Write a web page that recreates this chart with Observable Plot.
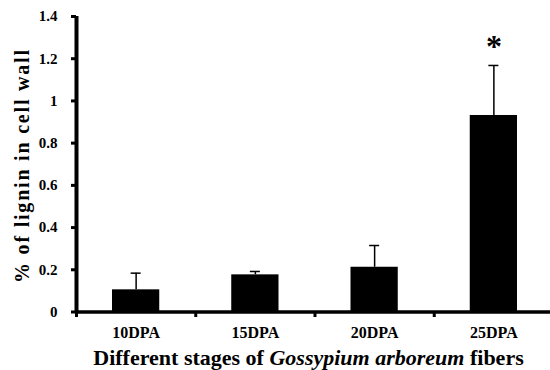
<!DOCTYPE html>
<html>
<head>
<meta charset="utf-8">
<script src="https://cdn.jsdelivr.net/npm/d3@7"></script>
<script src="https://cdn.jsdelivr.net/npm/@observablehq/plot@0.6"></script>
<style>
  html, body { margin: 0; padding: 0; background: #fff; }
  #chart svg { display: block; }
  #chart svg, #chart svg text { font-family: "Liberation Serif", "Times New Roman", Tinos, "DejaVu Serif", serif; font-weight: bold; }
</style>
</head>
<body>
<div id="chart"></div>
<script>
const categories = ["10DPA", "15DPA", "20DPA", "25DPA"];
const values = [0.105, 0.176, 0.212, 0.931];
const errors = [0.079, 0.016, 0.103, 0.237];
const significant = ["", "", "", "*"];
const yTicks = [0, 0.2, 0.4, 0.6, 0.8, 1, 1.2, 1.4];

const data = categories.map((c, i) => ({
  cat: c, i, value: values[i], top: values[i] + errors[i], mark: significant[i]
}));

const W = 550, H = 370;
const capHalf = 0.042;
const FONT = '"Liberation Serif", "Times New Roman", Tinos, "DejaVu Serif", serif';

const plot = Plot.plot({
  width: W, height: H,
  marginLeft: 76, marginRight: 0, marginTop: 16, marginBottom: 58,
  style: { fontFamily: FONT, fontWeight: "bold", background: "#fff", color: "#000" },
  x: { type: "linear", domain: [0, 4], range: [76, 553] },
  y: { domain: [0, 1.4], range: [311.5, 16] },
  marks: [
    Plot.rectY(data, { x1: d => d.i, x2: d => d.i + 1, y: "value", fill: "#000", insetLeft: 36, insetRight: 36 }),
    Plot.ruleX(data, { x: d => d.i + 0.5, y1: "value", y2: "top", stroke: "#000", strokeWidth: 1.5 }),
    Plot.ruleY(data, { y: "top", x1: d => d.i + 0.5 - capHalf, x2: d => d.i + 0.5 + capHalf, stroke: "#000", strokeWidth: 1.5 }),
    Plot.text(data.filter(d => d.mark), { x: d => d.i + 0.5, y: "top", text: "mark", fontSize: 32, fontWeight: "bold", lineAnchor: "middle", dy: -19, fill: "#000" }),
    Plot.axisY({ ticks: yTicks, tickFormat: d => String(+d.toFixed(1)), tickSize: 5, tickPadding: 14, strokeWidth: 3, fontSize: 15, fontWeight: "bold", label: null }),
    Plot.axisX({ ticks: [0.5, 1.5, 2.5, 3.5], tickFormat: d => categories[Math.floor(d)], tickSize: 0, tickPadding: 14, fontSize: 16, fontWeight: "bold", label: null }),
    Plot.axisX({ ticks: [0, 1, 2, 3], tickFormat: () => "", tickSize: 5, strokeWidth: 3, label: null }),
    Plot.ruleY([0], { stroke: "#000", strokeWidth: 3.5 }),
    Plot.ruleX([0], { y1: 0, y2: 1.4, stroke: "#000", strokeWidth: 4 })
  ]
});

document.getElementById("chart").appendChild(plot);

const svg = d3.select(plot);
// Y-axis title
svg.append("text")
  .attr("transform", "translate(22,166.5) rotate(-90)")
  .attr("text-anchor", "middle")
  .attr("dominant-baseline", "central")
  .style("font-family", FONT)
  .style("font-weight", "bold")
  .attr("font-size", 20)
  .attr("textLength", 233)
  .attr("lengthAdjust", "spacing")
  .attr("fill", "#000")
  .text("% of lignin in cell wall");

// X-axis title
const xt = svg.append("text")
  .attr("x", 308.5).attr("y", 365)
  .attr("text-anchor", "middle")
  .style("font-family", FONT)
  .style("font-weight", "bold")
  .attr("font-size", 22)
  .attr("fill", "#000");
xt.append("tspan").text("Different stages of ");
xt.append("tspan").style("font-style", "italic").text("Gossypium arboreum");
xt.append("tspan").text(" fibers");
</script>
</body>
</html>
